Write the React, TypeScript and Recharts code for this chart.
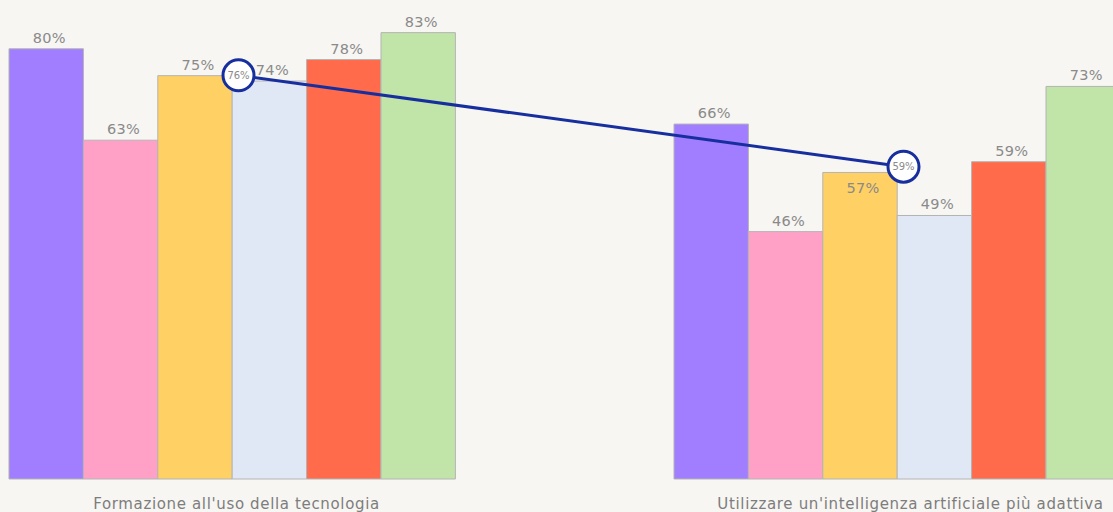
import React from 'react';
import { ComposedChart, Bar, Line, XAxis, YAxis } from 'recharts';

const categories = ["Formazione all'uso della tecnologia", "Utilizzare un'intelligenza artificiale più adattiva"];
const s1 = [80, 66];
const s2 = [63, 46];
const s3 = [75, 57];
const s4 = [74, 49];
const s5 = [78, 59];
const s6 = [83, 73];
const overall = [76, 59];

const seriesKeys = ['s1', 's2', 's3', 's4', 's5', 's6'];
const seriesColors = ['#a07eff', '#ffa1c7', '#ffd064', '#e1e8f5', '#ff6b4b', '#c1e4a9'];
// labels drawn inside the bar top (collision with the overall marker)
const insideLabels: Record<string, number[]> = { s3: [1] };

const data = categories.map((c, i) => ({
  name: c,
  s1: s1[i], s2: s2[i], s3: s3[i], s4: s4[i], s5: s5[i], s6: s6[i],
  overall: overall[i],
}));

const FONT = "'DejaVu Sans', sans-serif";
const W = 1350;
const H = 534;
const DOMAIN: [number, number] = [0, 90];
const TICK_SHIFT = [4, 13];
const BAR_SIZE = 74.4;

const makeLabel = (key: string) => (props: any) => {
  const { x, y, width, value, index } = props;
  const inside = (insideLabels[key] || []).includes(index);
  return (
    <text x={x + width / 2 + 3} y={inside ? y + 21 : y - 6} textAnchor="middle" fill="#8a8a8a" fontSize={14.5} letterSpacing={0.3} fontFamily={FONT}>
      {value}%
    </text>
  );
};

const Tick = (props: any) => {
  const { x, y, payload, index } = props;
  return (
    <text x={x + (TICK_SHIFT[index] || 0)} y={y} dy={21.5} textAnchor="middle" fill="#7d7d7d" fontSize={15} letterSpacing={0.65} fontFamily={FONT}>
      {payload.value}
    </text>
  );
};

const Dot = (props: any) => {
  const { cx, cy, value } = props;
  return (
    <g>
      <circle cx={cx} cy={cy} r={15.5} fill="#ffffff" stroke="#172f9e" strokeWidth={3} />
      <text x={cx} y={cy + 3.5} textAnchor="middle" fill="#8a8a8a" fontSize={10} fontFamily={FONT}>{value}%</text>
    </g>
  );
};

export default function App() {
  return (
    <div style={{ position: 'fixed', left: 0, top: 0, width: 1113, height: 512, overflow: 'hidden', background: '#f7f6f2' }}>
      <div style={{ position: 'absolute', left: -109.6, top: -14.9 }}>
        <ComposedChart width={W} height={H} data={data} margin={{ top: 10, right: 10, bottom: 10, left: 10 }} barCategoryGap="16.41%" barGap={0}>
          <XAxis dataKey="name" height={30} axisLine={false} tickLine={false} tick={<Tick />} interval={0} />
          <YAxis hide domain={DOMAIN} />
          {seriesKeys.map((k, i) => (
            <Bar key={k} dataKey={k} barSize={BAR_SIZE} fill={seriesColors[i]} stroke="#b4b4b4" strokeWidth={1} isAnimationActive={false} label={makeLabel(k)} />
          ))}
        </ComposedChart>
      </div>
      <div style={{ position: 'absolute', left: -104.3, top: -9.9 }}>
        <ComposedChart width={W} height={H} data={data} margin={{ top: 10, right: 10, bottom: 40, left: 10 }}>
          <XAxis dataKey="name" hide scale="band" />
          <YAxis hide domain={DOMAIN} />
          <Line dataKey="overall" stroke="#172f9e" strokeWidth={3} dot={<Dot />} activeDot={false} isAnimationActive={false} />
        </ComposedChart>
      </div>
    </div>
  );
}
